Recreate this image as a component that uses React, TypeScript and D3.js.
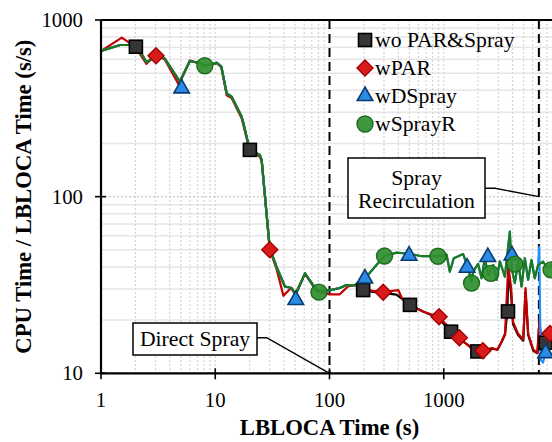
import React from "react";
import * as d3 from "d3";

type P = [number, number];

// ---- data ----
const seriesNames = ["wo PAR&Spray", "wPAR", "wDSpray", "wSprayR"];
const xTickValues = [1, 10, 100, 1000];
const yTickValues = [10, 100, 1000];
const eventTimes = [100, 6800];
const eventLabels = ["Direct Spray", "Spray Recirculation"];

// common path (no spray difference yet)
const baseEarly: P[] = [
  [1, 668], [1.47, 722], [1.86, 722], [2.1, 700], [2.5, 576], [3.0, 625], [3.6, 607],
  [4.9, 448], [6.0, 586], [7.4, 569], [8.1, 551], [9.3, 562], [10.3, 573], [11.3, 545],
  [12.6, 384], [13.9, 368], [17, 284], [17.6, 262], [20, 184], [24.6, 172], [25.5, 161],
  [30, 51], [34.4, 40], [40.7, 31], [46.6, 30.4], [50.7, 28], [61, 36.8], [77, 29.6],
  [100, 29.5], [123, 30.4], [141, 31.6], [167, 31.6],
];

const blackTail: P[] = [
  [197, 30], [233, 29], [386, 27.9], [426, 26.6], [506, 24.4], [658, 22.4], [890, 20.6],
  [1160, 17.2], [1500, 15], [1970, 13.3], [2200, 13.3], [2640, 13.8], [2950, 13.6],
  [3200, 15], [3440, 16.6], [3600, 22.4], [3680, 38], [3890, 28], [4040, 19], [4460, 16.5],
  [4960, 15.3], [5200, 29], [5480, 16.5], [6080, 13.4], [6600, 13], [6900, 20], [7150, 13],
  [7800, 14.9], [8500, 16], [9500, 16],
];

const redData: P[] = [
  [1, 668], [1.52, 794], [2.0, 705], [2.5, 565], [3.0, 628], [3.6, 600], [4.8, 430],
  [6.0, 590], [7.4, 565], [8.1, 548], [9.3, 560], [10.3, 570], [11.3, 540], [12.6, 375],
  [13.9, 362], [17, 278], [17.6, 255], [20, 184], [24.6, 168], [25.5, 158], [30, 50],
  [34.4, 39], [39.5, 27.5], [46, 30.4], [50, 28], [61, 36.5], [77, 29.2], [100, 28],
  [123, 28], [145, 31], [170, 31.6], [200, 30], [240, 29.3], [295, 28.8], [400, 29.6],
  [430, 26.6], [506, 24.4], [658, 22.4], [890, 20.9], [1000, 19.5], [1200, 17.3],
  [1370, 15.9], [1530, 14.9], [1800, 13.6], [2200, 13.4], [2640, 13.9], [2950, 13.6],
  [3200, 15.1], [3440, 16.8], [3670, 41], [3890, 30.4], [4040, 19.6], [4460, 16.8],
  [4960, 15.5], [5200, 30.4], [5480, 16.8], [6080, 13.6], [6600, 13], [6900, 20.5],
  [7150, 13], [7600, 15], [8500, 16.8], [9500, 17],
];

// spray path shared by wDSpray and wSprayR until recirculation
const sprayMid: P[] = [
  [205, 34.5], [300, 46], [386, 48.2], [500, 47.5], [642, 46], [890, 46], [1058, 47],
  [1130, 37.6], [1225, 44.8], [1478, 47.3], [1620, 40], [1750, 33], [1808, 37.6],
  [2000, 41.6], [2143, 34.5], [2290, 44.8], [2447, 36], [2706, 41], [2897, 33.8],
  [3097, 43], [3426, 35.2], [3788, 63.4], [3920, 39.6], [4190, 32.4], [4479, 43],
  [4795, 31], [5126, 44.8], [5476, 33.8], [5858, 43.8], [6265, 34.5], [6698, 41],
];
const blueEnd: P[] = [[6850, 52], [7050, 12], [7400, 11.5], [7800, 13.3], [8300, 12.5], [9000, 13]];
const greenEnd: P[] = [[7413, 43], [7932, 39.6], [8830, 41], [9500, 38]];

const blackMarkers: P[] = [[2.02, 706], [20.1, 184], [197, 29.6], [506, 24.4], [1160, 17.2], [1970, 13.3], [3650, 22.4], [7800, 14.9]];
const redMarkers: P[] = [[3.03, 628], [30, 50], [295, 28.8], [910, 20.9], [1370, 15.9], [2200, 13.4], [8500, 16.8]];
const blueMarkers: P[] = [[5.08, 410], [50.7, 26], [204, 34.4], [497, 46.3], [1600, 39.6], [2430, 45.5], [3950, 46.5], [7800, 13]];
const greenMarkers: P[] = [[8.1, 551], [80.9, 28.8], [303, 46.1], [890, 46], [1750, 32.4], [2580, 36.8], [4190, 41.5], [8700, 38.5]];

// ---- layout ----
const W = 552, H = 442;
const L = 101, R = 558, T = 20, B = 373.3;
const x = d3.scaleLog().domain([1, 10000]).range([L, R]);
const y = d3.scaleLog().domain([10, 1000]).range([B, T]);

const serif = "'Liberation Serif', 'Times New Roman', serif";

type Kind = "square" | "diamond" | "triangle" | "circle";
const styles = [
  { line: "#000000", kind: "square" as Kind, fill: "#353535", stroke: "#000000" },
  { line: "#c40000", kind: "diamond" as Kind, fill: "#d81c1c", stroke: "#a30000" },
  { line: "#1e8fff", kind: "triangle" as Kind, fill: "#2a8ae6", stroke: "#0b3c70" },
  { line: "#1b7a1b", kind: "circle" as Kind, fill: "#2f8f2f", stroke: "#1d6b1d" },
];

function Marker({ kind, cx, cy, fill, stroke }: { kind: Kind; cx: number; cy: number; fill: string; stroke: string }) {
  if (kind === "square") return <rect x={cx - 6.5} y={cy - 6.5} width={13} height={13} fill={fill} stroke={stroke} strokeWidth={1.6} />;
  if (kind === "diamond") return <path d={`M${cx},${cy - 8}L${cx + 8},${cy}L${cx},${cy + 8}L${cx - 8},${cy}Z`} fill={fill} stroke={stroke} strokeWidth={1.4} />;
  if (kind === "triangle") {
    const h = 13.5, s = 15.5;
    return <path d={`M${cx},${cy - (2 * h) / 3}L${cx + s / 2},${cy + h / 3}L${cx - s / 2},${cy + h / 3}Z`} fill={fill} stroke={stroke} strokeWidth={1.6} strokeLinejoin="miter" />;
  }
  return <circle cx={cx} cy={cy} r={8} fill={fill} fillOpacity={0.92} stroke={stroke} strokeWidth={1.4} />;
}

export default function App() {
  const line = d3.line<P>().x((d) => x(d[0])).y((d) => y(d[1]));
  const series: P[][] = [
    [...baseEarly, ...blackTail],
    redData,
    [...baseEarly, ...sprayMid, ...blueEnd],
    [...baseEarly, ...sprayMid, ...greenEnd],
  ];
  const markers = [blackMarkers, redMarkers, blueMarkers, greenMarkers];

  const allX = x.ticks();
  const minorX = allX.filter((t) => !xTickValues.includes(t) && t < 10000);
  const allY = y.ticks();
  const minorY = allY.filter((t) => !yTickValues.includes(t));

  const xd1 = x(eventTimes[0]);
  const xd2 = x(eventTimes[1]);

  return (
    <svg width={W} height={H} style={{ position: "absolute", left: 0, top: 0, background: "#fff" }} fontFamily={serif}>
      <defs>
        <clipPath id="plot">
          <rect x={L} y={T} width={R - L} height={B - T} />
        </clipPath>
      </defs>
      {/* grid */}
      {minorY.map((t) => (
        <line key={"gy" + t} x1={L} x2={R} y1={y(t)} y2={y(t)} stroke="#e6e6e6" strokeWidth={1.5} />
      ))}
      {[100].map((t) => (
        <line key={"gmy" + t} x1={L} x2={R} y1={y(t)} y2={y(t)} stroke="#c8c8c8" strokeWidth={1.3} strokeDasharray="2,2" />
      ))}
      {minorX.map((t) => (
        <line key={"gx" + t} x1={x(t)} x2={x(t)} y1={T} y2={B} stroke="#d4d4d4" strokeWidth={1.2} strokeDasharray="2,2" />
      ))}
      {[10, 1000].map((t) => (
        <line key={"gmx" + t} x1={x(t)} x2={x(t)} y1={T} y2={B} stroke="#d4d4d4" strokeWidth={1.2} strokeDasharray="2,2" />
      ))}

      {/* event dashed lines */}
      {eventTimes.map((t) => (
        <line key={"ev" + t} x1={x(t)} x2={x(t)} y1={T} y2={B} stroke="#000" strokeWidth={2} strokeDasharray="9,5" />
      ))}

      {/* series lines */}
      <g clipPath="url(#plot)">
        {series.map((d, i) => (
          <path key={"s" + i} d={line(d) || ""} fill="none" stroke={styles[i].line} strokeWidth={2.2} strokeLinejoin="round" />
        ))}
        {markers.map((ms, i) =>
          ms.map((m, j) => (
            <Marker key={`m${i}-${j}`} kind={styles[i].kind} cx={x(m[0])} cy={y(m[1])} fill={styles[i].fill} stroke={styles[i].stroke} />
          ))
        )}
      </g>

      {/* axes */}
      <line x1={L} x2={L} y1={T} y2={B} stroke="#000" strokeWidth={2.2} />
      <line x1={L} x2={R} y1={B} y2={B} stroke="#000" strokeWidth={2.2} />
      <line x1={L} x2={R} y1={T} y2={T} stroke="#000" strokeWidth={2.2} />
      {xTickValues.map((t) => (
        <g key={"xt" + t}>
          <line x1={x(t)} x2={x(t)} y1={B - 5} y2={B + 6} stroke="#000" strokeWidth={1.6} />
          <text x={x(t)} y={406.7} textAnchor="middle" fontSize={20.8} fill="#000">{t}</text>
        </g>
      ))}
      {yTickValues.map((t) => (
        <g key={"yt" + t}>
          <line x1={L - 6} x2={L + 5} y1={y(t)} y2={y(t)} stroke="#000" strokeWidth={1.6} />
          <text x={83} y={y(t) + 7} textAnchor="end" fontSize={20.8} fill="#000">{t}</text>
        </g>
      ))}
      <text x={(L + R) / 2} y={435} textAnchor="middle" fontSize={22.7} fontWeight="bold" fill="#000">LBLOCA Time (s)</text>
      <text transform={`translate(31,${(T + B) / 2}) rotate(-90)`} textAnchor="middle" fontSize={22.7} fontWeight="bold" fill="#000">
        CPU Time / LBLOCA Time (s/s)
      </text>

      {/* annotations */}
      <polyline points={`257,337.7 266.7,337.7 ${xd1},${B}`} fill="none" stroke="#000" strokeWidth={1.4} />
      <rect x={133} y={323} width={124} height={32} fill="#fff" stroke="#000" strokeWidth={1.5} />
      <text x={195} y={346} textAnchor="middle" fontSize={21.7} fill="#000">{eventLabels[0]}</text>

      <polyline points={`485,188.3 495,188.3 ${xd2},${y(100)}`} fill="none" stroke="#000" strokeWidth={1.4} />
      <rect x={348} y={158} width={137} height={60} fill="#fff" stroke="#000" strokeWidth={1.5} />
      <text x={416.5} y={185} textAnchor="middle" fontSize={21.7} fill="#000">Spray</text>
      <text x={416.5} y={208.3} textAnchor="middle" fontSize={21.7} fill="#000">Recirculation</text>

      {/* legend */}
      {seriesNames.map((n, i) => (
        <g key={"lg" + i}>
          <Marker kind={styles[i].kind} cx={365} cy={40 + i * 28} fill={styles[i].fill} stroke={styles[i].stroke} />
          <text x={375} y={47.3 + i * 28} fontSize={21.7} fill="#000">{n}</text>
        </g>
      ))}
    </svg>
  );
}
